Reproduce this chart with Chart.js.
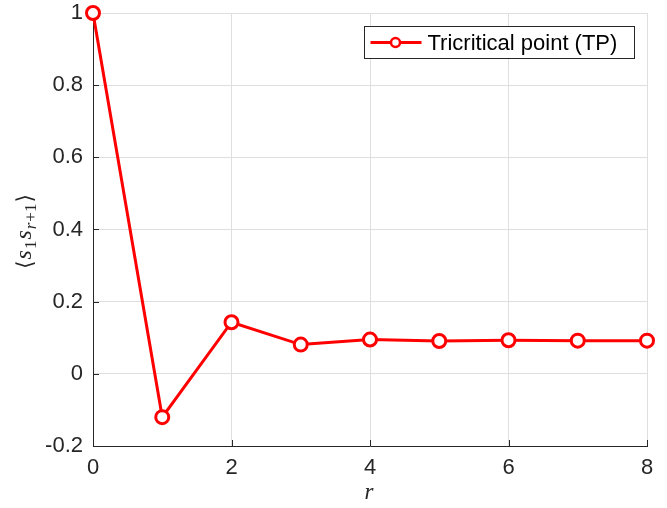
<!DOCTYPE html>
<html>
<head>
<meta charset="utf-8">
<script src="https://cdn.jsdelivr.net/npm/chart.js@4/dist/chart.umd.min.js"></script>
<style>
  body{margin:0;background:#fff;}
  #wrap{width:667px;height:508px;}
</style>
</head>
<body>
<div id="wrap"><canvas id="corrChart" width="667" height="508"></canvas></div>
<script>
// data
var rValues=[0,1,2,3,4,5,6,7,8];
var corrValues=[1,-0.12,0.143,0.081,0.095,0.091,0.093,0.092,0.092];
var xTickValues=[0,2,4,6,8];
var yTickValues=[-0.2,0,0.2,0.4,0.6,0.8,1];
var seriesLabel="Tricritical point (TP)";

var axisColor="#262626";
var gridColor="#dfdfdf";
var lineColor="#ff0000";
var tickFont={family:"Liberation Sans, Arial, Helvetica, sans-serif",size:22};

//______________________________PLUGINS_______________________________
// small ticks pointing into the plot, like matlab
var inwardTicks={
  id:"inwardTicks",
  beforeDatasetsDraw:function(chart){
    var ctx=chart.ctx;
    var area=chart.chartArea;
    var xs=chart.scales.x;
    var ys=chart.scales.y;
    ctx.save();
    ctx.strokeStyle=axisColor;
    ctx.lineWidth=1;
    ctx.beginPath();
    xs.ticks.forEach(function(t){
      var px=Math.round(xs.getPixelForValue(t.value))+0.5;
      ctx.moveTo(px,area.bottom);
      ctx.lineTo(px,area.bottom-6);
    });
    ys.ticks.forEach(function(t){
      var py=Math.round(ys.getPixelForValue(t.value))+0.5;
      ctx.moveTo(area.left,py);
      ctx.lineTo(area.left+6,py);
    });
    ctx.stroke();
    ctx.restore();
  }
};

// legend box in the upper right corner
var boxLegend={
  id:"boxLegend",
  afterDraw:function(chart){
    var ctx=chart.ctx;
    var ds=chart.data.datasets[0];
    var x0=364.5, y0=26.5, w=270, h=32;
    ctx.save();
    ctx.fillStyle="#fff";
    ctx.fillRect(x0,y0,w,h);
    ctx.strokeStyle=axisColor;
    ctx.lineWidth=1;
    ctx.strokeRect(x0,y0,w,h);
    var cy=y0+h/2;
    ctx.strokeStyle=ds.borderColor;
    ctx.lineWidth=ds.borderWidth;
    ctx.beginPath();
    ctx.moveTo(x0+6,cy);
    ctx.lineTo(x0+57,cy);
    ctx.stroke();
    ctx.beginPath();
    ctx.arc(x0+31,cy,4.5,0,Math.PI*2);
    ctx.fillStyle="#fff";
    ctx.fill();
    ctx.lineWidth=2.5;
    ctx.stroke();
    ctx.fillStyle="#000";
    ctx.font=tickFont.size+"px "+tickFont.family;
    ctx.textBaseline="middle";
    ctx.textAlign="left";
    ctx.fillText(ds.label,x0+63,cy+1);
    ctx.restore();
  }
};

// latex-like axis titles
var mathTitles={
  id:"mathTitles",
  afterDraw:function(chart){
    var ctx=chart.ctx;
    var serif="Liberation Serif, DejaVu Serif, serif";
    ctx.save();
    ctx.fillStyle=axisColor;
    ctx.textBaseline="alphabetic";
    ctx.textAlign="left";
    // x title
    ctx.font="italic 23px "+serif;
    var rw=ctx.measureText("r").width;
    ctx.fillText("r",369-rw/2,499);
    // y title, rotated
    var parts=[
      {t:"\u27E8",f:"22px DejaVu Serif, serif",dy:1},
      {t:"s",f:"italic 24px "+serif,dy:0},
      {t:"1",f:"17px "+serif,dy:5},
      {t:"s",f:"italic 24px "+serif,dy:0},
      {t:"r",f:"italic 17px "+serif,dy:5},
      {t:"+1",f:"17px "+serif,dy:5},
      {t:"\u27E9",f:"22px DejaVu Serif, serif",dy:1}
    ];
    var total=0;
    parts.forEach(function(p){
      ctx.font=p.f;
      p.w=ctx.measureText(p.t).width+1;
      total+=p.w;
    });
    ctx.translate(31,231);
    ctx.rotate(-Math.PI/2);
    var x=-total/2;
    parts.forEach(function(p){
      ctx.font=p.f;
      ctx.fillText(p.t,x,p.dy);
      x+=p.w;
    });
    ctx.restore();
  }
};

//______________________________CHART_______________________________
var points=rValues.map(function(r,i){return {x:r,y:corrValues[i]};});

new Chart(document.getElementById("corrChart"),{
  type:"line",
  data:{
    datasets:[{
      label:seriesLabel,
      data:points,
      borderColor:lineColor,
      borderWidth:3,
      backgroundColor:"#fff",
      pointRadius:6.5,
      pointBorderWidth:3,
      pointBackgroundColor:"#fff",
      pointBorderColor:lineColor,
      tension:0,
      clip:false
    }]
  },
  options:{
    responsive:false,
    animation:false,
    events:[],
    layout:{padding:{top:13,right:20,bottom:0,left:0}},
    plugins:{
      legend:{display:false},
      tooltip:{enabled:false}
    },
    scales:{
      x:{
        type:"linear",
        min:0,
        max:8,
        afterBuildTicks:function(scale){
          scale.ticks=xTickValues.map(function(v){return {value:v};});
        },
        afterFit:function(scale){
          scale.height=62;
          scale.paddingLeft=0;
          scale.paddingRight=0;
        },
        grid:{color:gridColor,drawTicks:false},
        border:{color:axisColor,width:1},
        ticks:{color:axisColor,font:tickFont,padding:9,maxRotation:0}
      },
      y:{
        min:-0.2,
        max:1,
        afterBuildTicks:function(scale){
          scale.ticks=yTickValues.map(function(v){return {value:v};});
        },
        afterFit:function(scale){
          scale.width=93;
          scale.paddingTop=0;
          scale.paddingBottom=0;
        },
        grid:{color:gridColor,drawTicks:false},
        border:{color:axisColor,width:1},
        ticks:{
          color:axisColor,
          font:tickFont,
          padding:10,
          callback:function(v){return String(Math.round(v*10)/10);}
        }
      }
    }
  },
  plugins:[inwardTicks,boxLegend,mathTitles]
});
</script>
</body>
</html>
